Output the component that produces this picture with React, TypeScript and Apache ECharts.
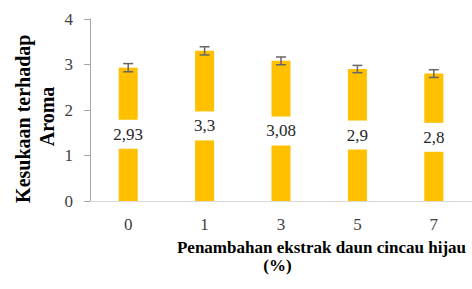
import React, { useEffect, useRef } from "react";
import * as echarts from "echarts";

const categories = ["0", "1", "3", "5", "7"];
const values = [2.93, 3.3, 3.08, 2.9, 2.8];
const errors = [0.09, 0.09, 0.085, 0.08, 0.085];
const yTicks = [0, 1, 2, 3, 4];
const xTitle1 = "Penambahan ekstrak daun cincau hijau";
const xTitle2 = "(%)";
const yTitle1 = "Kesukaan terhadap";
const yTitle2 = "Aroma";

const FONT = "Liberation Serif";

export default function App() {
  const ref = useRef<HTMLDivElement>(null);
  useEffect(() => {
    const chart = echarts.init(ref.current!, null, { renderer: "svg" });
    chart.setOption({
      animation: false,
      textStyle: { fontFamily: FONT },
      grid: { left: 90, top: 19, bottom: 88, right: -7, containLabel: false },
      xAxis: {
        type: "category",
        data: categories,
        axisLine: { lineStyle: { color: "#D9D9D9", width: 1 } },
        axisTick: { show: false },
        axisLabel: { fontFamily: FONT, fontSize: 17, color: "#404040", margin: 15 },
      },
      yAxis: {
        type: "value",
        min: yTicks[0],
        max: yTicks[yTicks.length - 1],
        interval: 1,
        axisLine: { show: true, lineStyle: { color: "#A6A6A6", width: 1 } },
        axisTick: { show: true, length: 6, lineStyle: { color: "#A6A6A6" } },
        splitLine: { show: false },
        axisLabel: { fontFamily: FONT, fontSize: 17, color: "#404040", margin: 17 },
      },
      series: [
        {
          type: "bar",
          data: values,
          barWidth: 19,
          itemStyle: { color: "#FFC000" },
          label: {
            show: true,
            position: "inside",
            formatter: (p: any) => String(p.value).replace(".", ","),
            fontFamily: FONT,
            fontSize: 17,
            color: "#262626",
            backgroundColor: "#FFFFFF",
            padding: [6, 3, 6, 3],
          },
        },
        {
          type: "custom",
          data: values.map((v, i) => [i, v - errors[i], v + errors[i]]),
          renderItem: (params: any, api: any) => {
            const x = api.value(0);
            const lo = api.coord([x, api.value(1)]);
            const hi = api.coord([x, api.value(2)]);
            const hw = 5;
            const style = { stroke: "#666666", lineWidth: 1.5 };
            return {
              type: "group",
              children: [
                { type: "line", shape: { x1: lo[0], y1: lo[1], x2: hi[0], y2: hi[1] }, style },
                { type: "line", shape: { x1: lo[0] - hw, y1: lo[1], x2: lo[0] + hw, y2: lo[1] }, style },
                { type: "line", shape: { x1: hi[0] - hw, y1: hi[1], x2: hi[0] + hw, y2: hi[1] }, style },
              ],
            };
          },
          z: 10,
        },
      ],
      graphic: [
        {
          type: "text",
          x: 23,
          y: 118.7,
          rotation: Math.PI / 2,
          style: {
            text: yTitle1,
            fontFamily: FONT,
            fontWeight: "bold",
            fontSize: 20,
            fill: "#000",
            align: "center",
            verticalAlign: "middle",
          },
        },
        {
          type: "text",
          x: 47,
          y: 116.5,
          rotation: Math.PI / 2,
          style: {
            text: yTitle2,
            fontFamily: FONT,
            fontWeight: "bold",
            fontSize: 20,
            fill: "#000",
            align: "center",
            verticalAlign: "middle",
          },
        },
        {
          type: "text",
          x: 321.5,
          y: 247,
          style: {
            text: xTitle1,
            fontFamily: FONT,
            fontWeight: "bold",
            fontSize: 17,
            fill: "#000",
            align: "center",
            verticalAlign: "middle",
          },
        },
        {
          type: "text",
          x: 277.5,
          y: 265,
          style: {
            text: xTitle2,
            fontFamily: FONT,
            fontWeight: "bold",
            fontSize: 17,
            fill: "#000",
            align: "center",
            verticalAlign: "middle",
          },
        },
      ],
    });
    return () => chart.dispose();
  }, []);
  return <div ref={ref} style={{ width: 472, height: 289, position: "absolute", left: 0, top: 0 }} />;
}
